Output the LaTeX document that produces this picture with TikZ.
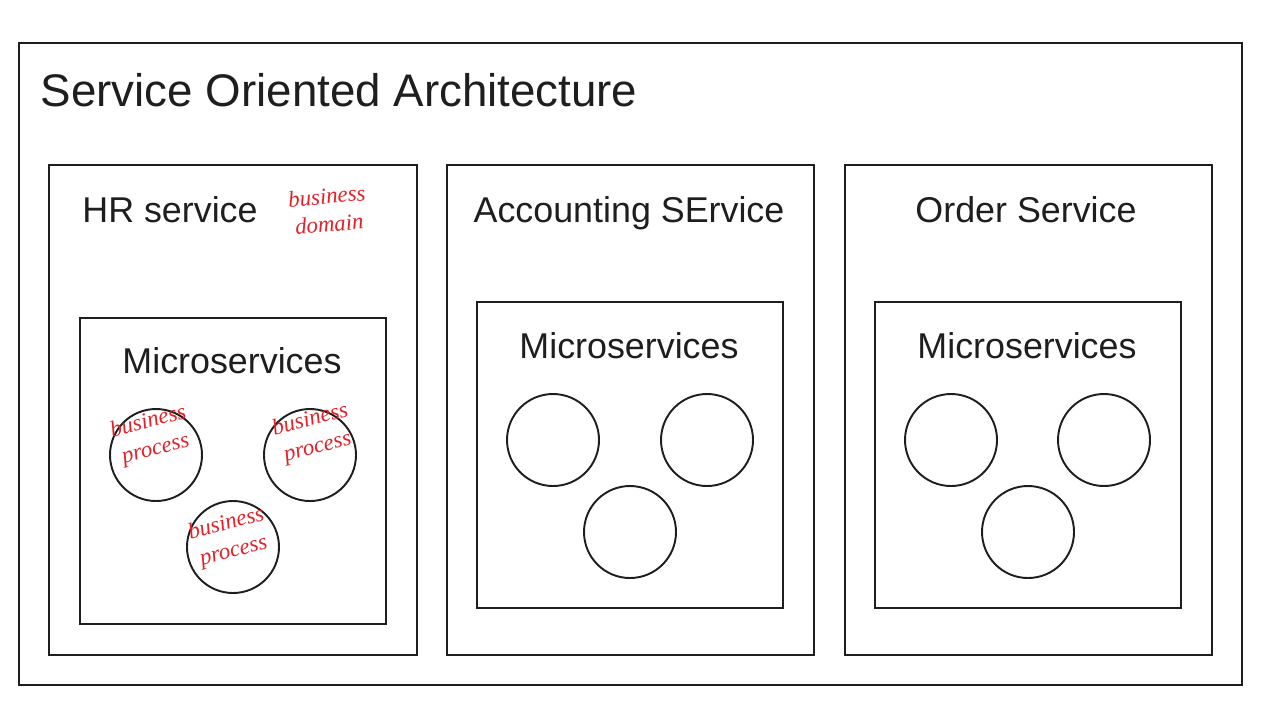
\documentclass[tikz,border=0pt]{standalone}
\usepackage{fontspec}
\setmainfont{Liberation Sans}
\newfontfamily\handfont{Liberation Serif}
\usepackage{tikz}
\definecolor{ink}{RGB}{30, 30, 30}
\definecolor{pen}{RGB}{228, 32, 40}

\begin{document}
\begin{tikzpicture}[x=0.02cm, y=-0.02cm, line width=1.1pt, draw=ink,
  title/.style={font=\fontsize{26}{31}\selectfont, text=ink, anchor=base west},
  label/.style={font=\fontsize{20.4}{24}\selectfont, text=ink, anchor=base},
  scribble/.style={font=\handfont\itshape\fontsize{13}{16}\selectfont, text=pen,
    align=center, inner sep=0pt}]
  \useasboundingbox (0, 0) rectangle (1280, 721);

  % outer frame
  \draw (19, 43) rectangle (1242, 685);
  \node[title] (soa) at (34, 106) {Service Oriented Architecture};

  % domain boxes
  \draw (49, 165) rectangle (417, 655);
  \draw (447, 165) rectangle (814, 655);
  \draw (845, 165) rectangle (1212, 655);
  \node[label] (hr) at (170, 222) {HR service};
  \node[label] (acc) at (629, 222) {Accounting SErvice};
  \node[label] (ord) at (1026, 222) {Order Service};

  % microservice boxes
  \draw (80, 318) rectangle (386, 624);
  \draw (477, 302) rectangle (783, 608);
  \draw (875, 302) rectangle (1181, 608);
  \node[label] (hrms) at (232, 373) {Microservices};
  \node[label] (accms) at (629, 358) {Microservices};
  \node[label] (ordms) at (1027, 358) {Microservices};

  \foreach \x/\y in {156/455, 310/455, 233/547,
                     553/440, 707/440, 630/532,
                     951/440, 1104/440, 1028/532} {
    \draw (\x, \y) circle (46);
  }

  % notes in red pen
  \node[scribble, rotate=5] (dom) at (328, 210) {business\\domain};
  \node[scribble, rotate=15] (bp1) at (152, 436) {business\\process};
  \node[scribble, rotate=15] (bp2) at (314, 434) {business\\process};
  \node[scribble, rotate=15] (bp3) at (230, 538) {business\\process};
\end{tikzpicture}
\end{document}
